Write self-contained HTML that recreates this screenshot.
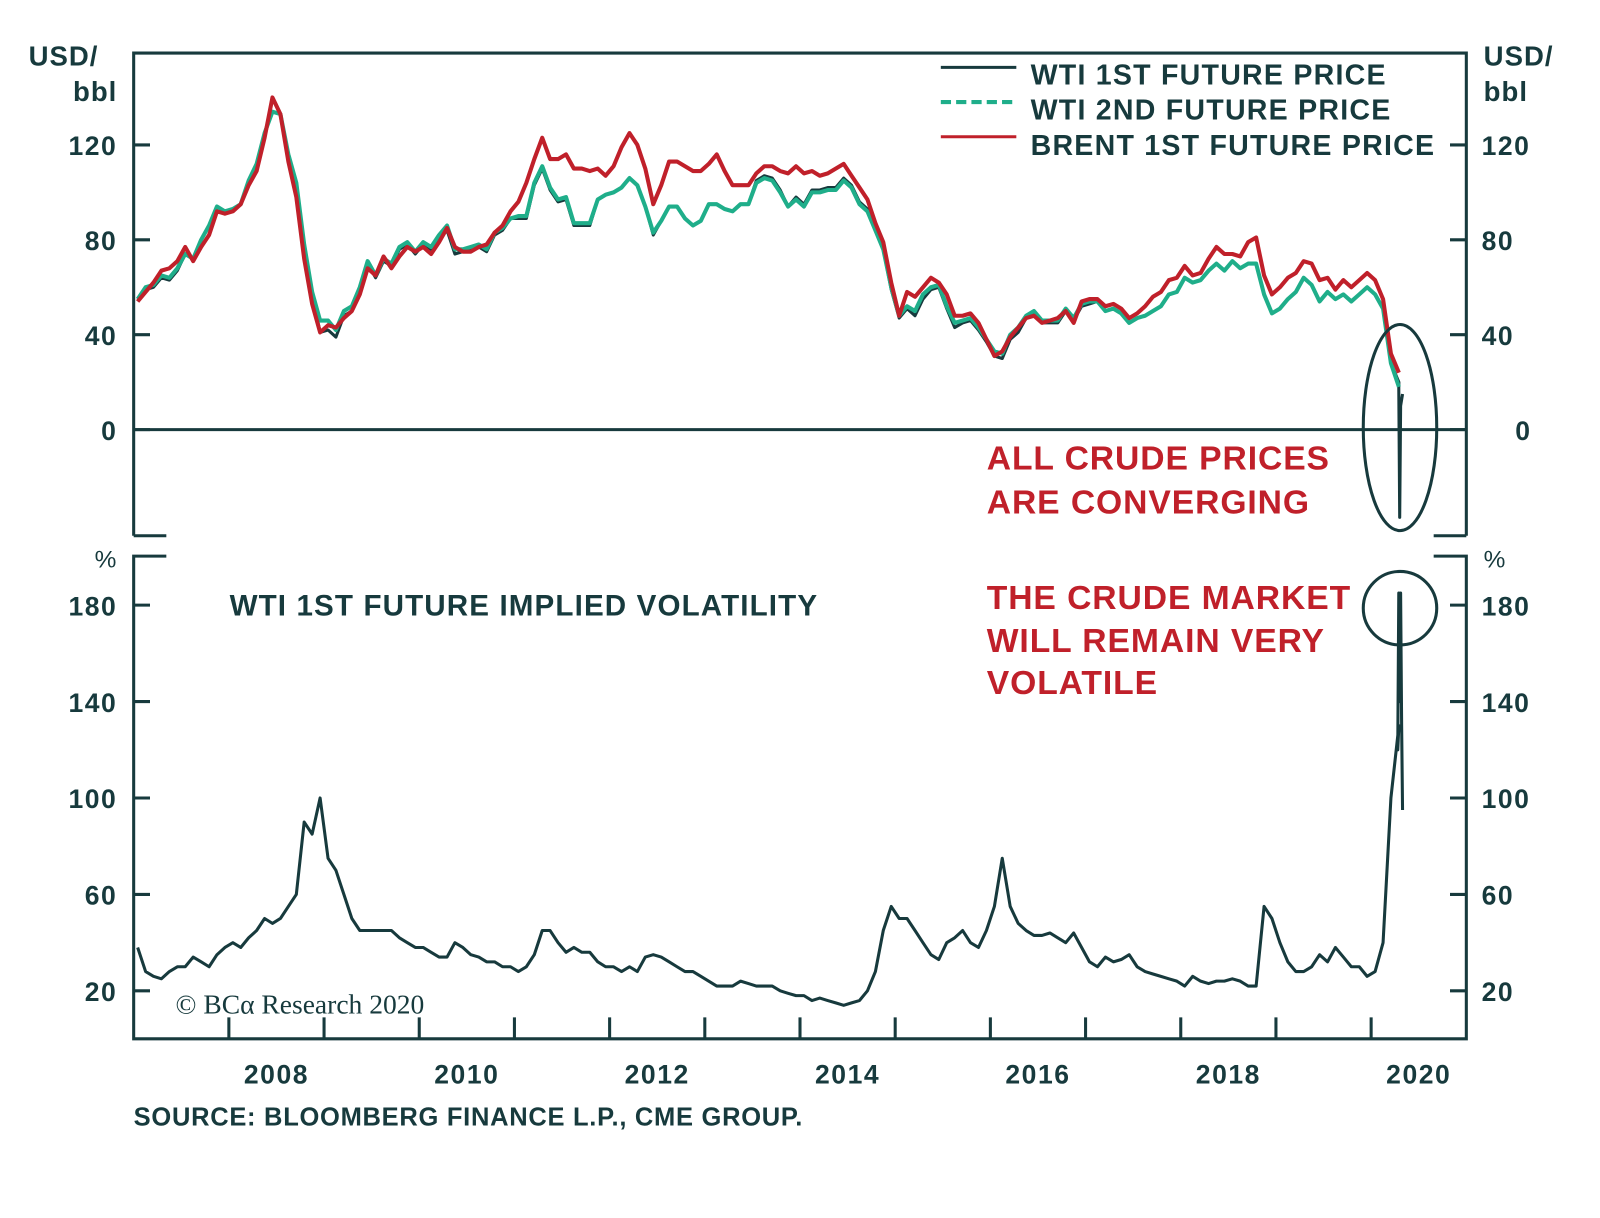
<!DOCTYPE html>
<html><head><meta charset="utf-8"><style>
html,body{margin:0;padding:0;background:#fff;}
svg{display:block;font-family:"Liberation Sans",sans-serif;}
</style></head><body>
<svg id="chart" width="1600" height="1218" viewBox="0 0 1568 1193.6" xmlns="http://www.w3.org/2000/svg">
<g id="frame" stroke="#173a3d" stroke-width="3" fill="none">
<polyline points="131,525 131,52 1437,52 1437,525"/>
<line x1="131" y1="525" x2="163" y2="525"/>
<line x1="1405" y1="525" x2="1437" y2="525"/>
<line x1="131" y1="421" x2="1437" y2="421"/>
<polyline points="163,545 131,545 131,1018 1437,1018 1437,545 1405,545"/>
</g>
<g id="ticks" stroke="#173a3d" stroke-width="3"></g>
<g id="labels" fill="#173a3d" font-weight="bold" font-size="26" letter-spacing="1.5"></g>
<g id="series" fill="none" stroke-linejoin="round"></g>
<g fill="#173a3d" font-weight="bold" font-size="27" letter-spacing="1">
<text x="28" y="64">USD/</text>
<text x="115" y="99" text-anchor="end">bbl</text>
<text x="1454" y="64">USD/</text>
<text x="1454" y="99">bbl</text>
<text x="115" y="556" text-anchor="end" font-size="24" font-weight="normal">%</text>
<text x="1454" y="556" font-size="24" font-weight="normal">%</text>
</g>
<g font-weight="bold" font-size="28" fill="#173a3d" letter-spacing="1.2">
<line x1="922" y1="66" x2="996" y2="66" stroke="#173a3d" stroke-width="3"/>
<text x="1010" y="83">WTI 1ST FUTURE PRICE</text>
<line x1="922" y1="100" x2="996" y2="100" stroke="#1fae8a" stroke-width="4" stroke-dasharray="10 5"/>
<text x="1010" y="117">WTI 2ND FUTURE PRICE</text>
<line x1="922" y1="134" x2="996" y2="134" stroke="#c0202a" stroke-width="3"/>
<text x="1010" y="152">BRENT 1ST FUTURE PRICE</text>
</g>
<g fill="#c0202a" font-weight="bold" font-size="33" letter-spacing="0.9">
<text x="967" y="460">ALL CRUDE PRICES</text>
<text x="967" y="503">ARE CONVERGING</text>
<text x="967" y="597">THE CRUDE MARKET</text>
<text x="967" y="639">WILL REMAIN VERY</text>
<text x="967" y="680">VOLATILE</text>
</g>
<text x="225" y="603" fill="#173a3d" font-weight="bold" font-size="29" letter-spacing="1.1">WTI 1ST FUTURE IMPLIED VOLATILITY</text>
<text x="172" y="993" fill="#173a3d" font-family="Liberation Serif,serif" font-size="27">© BCα Research 2020</text>
<text x="131" y="1103" fill="#173a3d" font-weight="bold" font-size="25" letter-spacing="0.7">SOURCE: BLOOMBERG FINANCE L.P., CME GROUP.</text>
<ellipse cx="1372" cy="419" rx="36" ry="101" fill="none" stroke="#173a3d" stroke-width="3"/>
<circle cx="1372" cy="596" r="36" fill="none" stroke="#173a3d" stroke-width="3"/>
</svg>
<script>
// monthly values Jan 2007 .. Apr 2020
const wti1 = [54,59,60,64,63,67,74,72,80,86,94,92, 93,95,105,112,125,134,133,116,104,77,57,41, 42,39,48,50,59,70,64,71,69,76,78,74, 78,76,81,84,74,75,76,77,75,82,84,89, 89,89,103,110,101,96,97,86,86,86,97,99, 100,102,106,103,94,82,88,94,94,89,86,88, 95,95,93,92,95,95,105,107,106,101,94,98, 95,101,101,102,102,106,103,96,93,84,76,59, 47,51,48,55,59,60,51,43,45,46,42,37, 31,30,38,41,47,49,45,45,45,50,46,52, 53,54,50,51,49,45,47,48,50,52,57,58, 64,62,63,67,70,67,71,68,70,70,57,49, 51,55,58,64,61,54,58,55,57,54,57,60, 57,51,28,20];
const wti2 = [55,60,61,65,64,68,74,72,80,86,94,92, 93,95,105,112,125,134,133,116,104,78,58,46, 46,42,50,52,60,71,65,72,70,77,79,75, 79,77,82,86,76,76,77,78,76,83,85,89, 90,90,104,111,102,97,98,87,87,87,97,99, 100,102,106,103,94,83,88,94,94,89,86,88, 95,95,93,92,95,95,104,106,105,100,94,97, 94,100,100,101,101,105,102,95,92,84,76,60, 48,52,50,57,60,61,52,45,46,47,43,38, 33,32,40,43,48,50,46,46,46,51,47,53, 54,54,50,51,49,45,47,48,50,52,57,58, 64,62,63,67,70,67,71,68,70,70,57,49, 51,55,58,64,61,54,58,55,57,54,57,60, 57,51,28,18];
const brent = [54,58,62,67,68,71,77,71,77,82,92,91, 92,95,103,109,123,140,133,113,98,72,53,41, 44,43,47,50,57,68,65,73,68,73,77,75, 77,74,79,85,77,75,75,77,78,83,86,92, 96,104,114,123,114,114,116,110,110,109,110,107, 111,119,125,120,110,95,103,113,113,111,109,109, 112,116,109,103,103,103,108,111,111,109,108,111, 108,109,107,108,110,112,107,102,97,87,79,62, 48,58,56,60,64,62,57,48,48,49,45,38, 31,33,39,43,47,48,45,46,47,50,45,54, 55,55,52,53,51,47,49,52,56,58,63,64, 69,65,66,72,77,74,74,73,79,81,65,57, 60,64,66,71,70,63,64,59,63,60,63,66, 63,55,32,24];
// WTI 1st future April 2020 negative-price event
const wtiTailDates = [2020.29, 2020.30, 2020.31, 2020.33];
const wtiTailValues = [18, -37, 10, 15];
const vol = [38,28,26,25,28,30,30,34,32,30,35,38, 40,38,42,45,50,48,50,55,60,90,85,100, 75,70,60,50,45,45,45,45,45,42,40,38, 38,36,34,34,40,38,35,34,32,32,30,30, 28,30,35,45,45,40,36,38,36,36,32,30, 30,28,30,28,34,35,34,32,30,28,28,26, 24,22,22,22,24,23,22,22,22,20,19,18, 18,16,17,16,15,14,15,16,20,28,45,55, 50,50,45,40,35,33,40,42,45,40,38,45, 55,75,55,48,45,43,43,44,42,40,44,38, 32,30,34,32,33,35,30,28,27,26,25,24, 22,26,24,23,24,24,25,24,22,22,55,50, 40,32,28,28,30,35,32,38,34,30,30,26, 28,40,100,130];
const volTailDates = [2020.28, 2020.29, 2020.30, 2020.31, 2020.32, 2020.33];
const volTailValues = [120, 185, 140, 185, 130, 95];
const priceTicks = [0, 40, 80, 120];
const volTicks = [20, 60, 100, 140, 180];
const years = [2008, 2010, 2012, 2014, 2016, 2018, 2020];

const NS = 'http://www.w3.org/2000/svg';
const X0 = 131, X1 = 1437, T0 = 2007, T1 = 2021;
function xs(t){ return X0 + (t - T0) / (T1 - T0) * (X1 - X0); }
function yp(v){ return 421 - v * 2.325; }
function yv(v){ return 971 - (v - 20) * 2.3625; }
function mk(tag, attrs, parent){ const e = document.createElementNS(NS, tag); for (const k in attrs) e.setAttribute(k, attrs[k]); parent.appendChild(e); return e; }

const ticks = document.getElementById('ticks');
const labels = document.getElementById('labels');
priceTicks.forEach(v => {
  const y = yp(v);
  let l = mk('line', {x1: 131, x2: 147, y1: y, y2: y}, ticks);
  
  
  l = mk('line', {x1: 1421, x2: 1437, y1: y, y2: y}, ticks);
  
  
  let t = mk('text', {x: 115, y: y + 10, 'text-anchor': 'end'}, labels); t.textContent = v;
  
  
  t = mk('text', {x: v === 0 ? 1485 : 1452, y: y + 10}, labels); t.textContent = v;
  
  
});
volTicks.forEach(v => {
  const y = yv(v);
  let l = mk('line', {x1: 131, x2: 147, y1: y, y2: y}, ticks);
  
  
  l = mk('line', {x1: 1421, x2: 1437, y1: y, y2: y}, ticks);
  
  
  let t = mk('text', {x: 115, y: y + 10, 'text-anchor': 'end'}, labels); t.textContent = v;
  
  
  t = mk('text', {x: 1452, y: y + 10}, labels); t.textContent = v;
  
  
});
for (let yr = 2008; yr <= 2020; yr++) {
  const x = xs(yr);
  const l = mk('line', {x1: x, x2: x, y1: 997, y2: 1018}, ticks);
  
  
}
years.forEach(yr => {
  const t = mk('text', {x: xs(yr + 0.5), y: 1062, 'text-anchor': 'middle'}, labels); t.textContent = yr;
  
  
});

const series = document.getElementById('series');
function pts(vals, yf, tailD, tailV){
  const p = vals.map((v, i) => xs(T0 + (i + 0.5) / 12).toFixed(1) + ',' + yf(v).toFixed(1));
  if (tailD) tailD.forEach((d, i) => p.push(xs(d).toFixed(1) + ',' + yf(tailV[i]).toFixed(1)));
  return p.join(' ');
}
let s = mk('polyline', {points: pts(wti1, yp, wtiTailDates, wtiTailValues), stroke: '#173a3d', 'stroke-width': 3}, series);


s = mk('polyline', {points: pts(wti2, yp), stroke: '#1fae8a', 'stroke-width': 4}, series);


s = mk('polyline', {points: pts(brent, yp), stroke: '#c0202a', 'stroke-width': 4}, series);


s = mk('polyline', {points: pts(vol, yv, volTailDates, volTailValues), stroke: '#173a3d', 'stroke-width': 3}, series);


</script>
</body></html>
